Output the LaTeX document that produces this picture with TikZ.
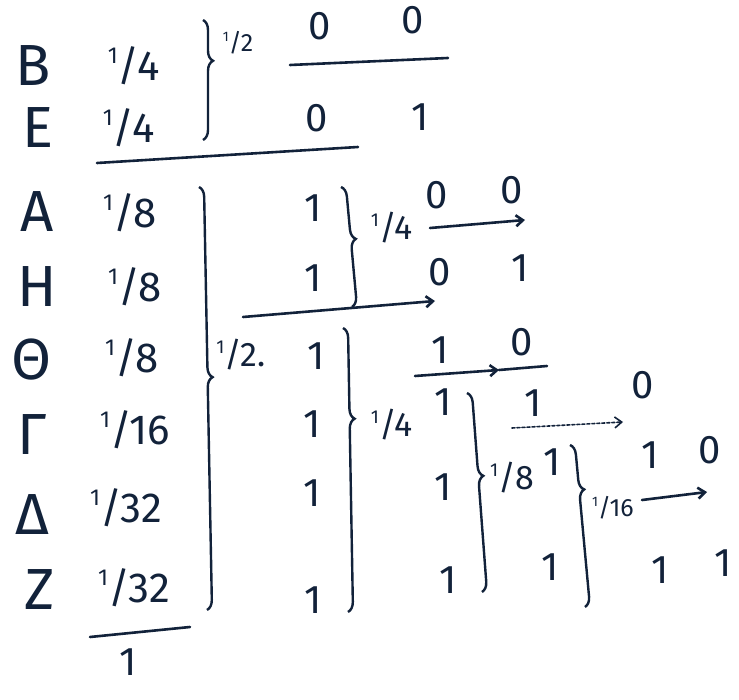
\documentclass[tikz,border=0pt]{standalone}
\usepackage{fontspec}
\setmainfont{Fira Sans}
\usepackage{tikz}
\usetikzlibrary{arrows.meta,decorations.pathreplacing}

\definecolor{ink}{RGB}{18,34,58}
% handwritten fraction: small raised numerator
\newcommand{\hfr}[2]{\raisebox{.4em}{\scalebox{.55}{#1}}/#2}

\begin{document}
\begin{tikzpicture}[
    x=1pt, y=-1pt,
    sym/.style={text=ink, inner sep=0pt, font=\fontsize{58}{58}\selectfont},
    prob/.style={text=ink, inner sep=0pt, font=\fontsize{42}{42}\selectfont},
    bit/.style={text=ink, inner sep=0pt, font=\fontsize{40}{40}\selectfont},
    lab/.style={text=ink, inner sep=0pt, font=\fontsize{34}{34}\selectfont},
    small/.style={text=ink, inner sep=0pt, font=\fontsize{25}{25}\selectfont},
    bar/.style={draw=ink, line width=2.6pt, line cap=round},
    arrow/.style={bar, -{Straight Barb[length=7pt,width=11pt]}},
    brace/.style={draw=ink, line width=2.4pt, decorate, decoration={brace, amplitude=10pt, aspect=#1}}
]
    \useasboundingbox (0,0) rectangle (739,700);

    % Upper symbols
    \node[sym]  (B)  at (33,66)  {B};
    \node[prob] (pB) at (134,66) {\hfr{1}{4}};
    \node[sym]  (E)  at (38,128) {E};
    \node[prob] (pE) at (129,128) {\hfr{1}{4}};
    \coordinate (bT) at (203,20);
    \coordinate (bB) at (203,140);
    \draw[brace=0.34] (bT) -- (bB);
    \node[small] (hU) at (238,43) {\hfr{1}{2}};

    % Upper codes
    \node[bit] (uB1) at (320,26) {0};
    \node[bit] (uB2) at (413,20) {0};
    \coordinate (uL) at (290,65);
    \coordinate (uR) at (448,58);
    \draw[bar] (uL) -- (uR);
    \node[bit] (uE1) at (317,118) {0};
    \node[bit] (uE2) at (420,117) {1};
    \coordinate (sL) at (97,163);
    \coordinate (sR) at (358,147);
    \draw[bar] (sL) -- (sR);

    % Lower symbols
    \node[sym] (A)  at (37,212) {A};
    \node[sym] (H)  at (37,287) {H};
    \node[sym] (Th) at (32,360) {Θ};
    \node[sym] (G)  at (32,435) {Γ};
    \node[sym] (D)  at (32,515) {Δ};
    \node[sym] (Z)  at (40,590) {Z};
    \node[prob] (pA)  at (130,213) {\hfr{1}{8}};
    \node[prob] (pH)  at (135,287) {\hfr{1}{8}};
    \node[prob] (pTh) at (132,358) {\hfr{1}{8}};
    \node[prob] (pG)  at (135,430) {\hfr{1}{16}};
    \node[prob] (pD)  at (126,508) {\hfr{1}{32}};
    \node[prob] (pZ)  at (134,588) {\hfr{1}{32}};
    \coordinate (gT) at (199,187);
    \coordinate (gB) at (207,610);
    \draw[brace=0.45] (gT) -- (gB);
    \node[lab] (hL) at (241,355) {\hfr{1}{2}.};
    \coordinate (tL) at (90,637);
    \coordinate (tR) at (190,627);
    \draw[bar] (tL) -- (tR);
    \node[bit] (tot) at (128,662) {1};

    % First column
    \node[bit] (cA)  at (313,208) {1};
    \node[bit] (cH)  at (313,278) {1};
    \node[bit] (cTh) at (316,356) {1};
    \node[bit] (cG)  at (312,424) {1};
    \node[bit] (cD)  at (312,493) {1};
    \node[bit] (cZ)  at (313,600) {1};

    % A, H
    \coordinate (aT) at (341,187);
    \coordinate (aB) at (352,307);
    \draw[brace=0.44] (aT) -- (aB);
    \node[lab] (qAH) at (392,228) {\hfr{1}{4}};
    \node[bit] (dA1) at (437,195) {0};
    \node[bit] (dA2) at (512,190) {0};
    \coordinate (aL) at (430,228);
    \coordinate (aR) at (525,220);
    \draw[arrow] (aL) -- (aR);
    \node[bit] (dH1) at (440,272) {0};
    \node[bit] (dH2) at (520,268) {1};
    \coordinate (lL) at (243,317);
    \coordinate (lR) at (435,301);
    \draw[arrow] (lL) -- (lR);

    % Θ, Γ, Δ, Z
    \coordinate (rT) at (343,328);
    \coordinate (rB) at (348,612);
    \draw[brace=0.32] (rT) -- (rB);
    \node[lab] (qR) at (392,425) {\hfr{1}{4}};
    \node[bit] (dTh1) at (440,350) {1};
    \node[bit] (dTh2) at (522,342) {0};
    \coordinate (mL) at (415,376);
    \coordinate (mM) at (499,370);
    \coordinate (mR) at (547,366);
    \draw[arrow] (mL) -- (mM);
    \draw[bar] (mM) -- (mR);

    % Γ, Δ, Z
    \node[bit] (eG) at (443,402) {1};
    \node[bit] (eD) at (443,487) {1};
    \node[bit] (eZ) at (448,580) {1};
    \coordinate (sT) at (467,393);
    \coordinate (sB) at (482,592);
    \draw[brace=0.42] (sT) -- (sB);
    \node[lab] (qS) at (512,478) {\hfr{1}{8}};
    \node[bit] (fG) at (533,403) {1};
    \coordinate (dL) at (512,428);
    \coordinate (dR) at (623,422);
    \draw[arrow, line width=1.6pt, densely dashed] (dL) -- (dR);
    \node[bit] (gG) at (643,385) {0};

    % Δ, Z
    \node[bit] (fD) at (552,462) {1};
    \node[bit] (fZ) at (550,567) {1};
    \coordinate (vT) at (570,445);
    \coordinate (vB) at (585,607);
    \draw[brace=0.28] (vT) -- (vB);
    \node[small] (qV) at (613,508) {\hfr{1}{16}};
    \node[bit] (gD) at (650,455) {1};
    \node[bit] (hD) at (710,450) {0};
    \coordinate (wL) at (642,500);
    \coordinate (wR) at (707,492);
    \draw[arrow] (wL) -- (wR);
    \node[bit] (gZ) at (660,570) {1};
    \node[bit] (hZ) at (723,563) {1};
\end{tikzpicture}
\end{document}
